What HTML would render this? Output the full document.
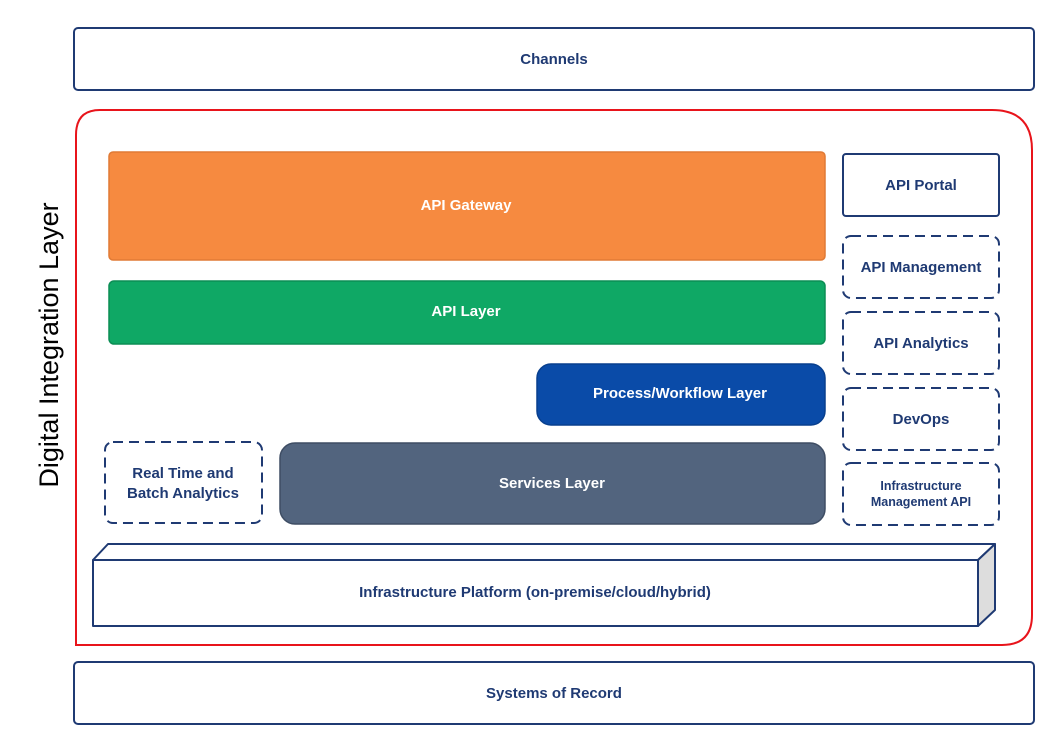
<!DOCTYPE html>
<html><head><meta charset="utf-8"><style>
html,body{margin:0;padding:0;background:#fff;}
svg{display:block;}
text{font-family:"Liberation Sans",Arial,sans-serif;}
.l{font-weight:bold;font-size:15px;fill:#1F3A73;text-anchor:middle;}
.w{font-weight:bold;font-size:15px;fill:#fff;text-anchor:middle;}
</style></head><body>
<svg width="1052" height="736" viewBox="0 0 1052 736">
<g fill="none" stroke="#1F3A73" stroke-width="2">
<rect x="74" y="28" width="960" height="62" rx="4" fill="#fff"/>
<rect x="74" y="662" width="960" height="62" rx="4" fill="#fff"/>
</g>
<text class="l" x="554" y="64">Channels</text>
<text class="l" x="554" y="698">Systems of Record</text>

<path d="M100 110 H992 Q1032 110 1032 150 V615 Q1032 645 1002 645 H76 V135 Q76 110 100 110 Z" fill="none" stroke="#E8141B" stroke-width="2"/>

<text x="51" y="345" transform="rotate(-90 51 345)" font-size="27" fill="#000" text-anchor="middle" dominant-baseline="middle">Digital Integration Layer</text>

<rect x="109" y="152" width="716" height="108" rx="4" fill="#F68A40" stroke="#E07A35" stroke-width="1.5"/>
<text class="w" x="466" y="210">API Gateway</text>
<rect x="109" y="281" width="716" height="63" rx="5" fill="#0FA865" stroke="#0C8E55" stroke-width="1.5"/>
<text class="w" x="466" y="316">API Layer</text>
<rect x="537" y="364" width="288" height="61" rx="14" fill="#0A4BA8" stroke="#083F8E" stroke-width="1.5"/>
<text class="w" x="680" y="398">Process/Workflow Layer</text>
<rect x="280" y="443" width="545" height="81" rx="15" fill="#52647E" stroke="#3E4D64" stroke-width="1.5"/>
<text class="w" x="552" y="488">Services Layer</text>

<g fill="none" stroke="#1F3A73" stroke-width="2">
<rect x="105" y="442" width="157" height="81" rx="8" stroke-dasharray="10,6"/>
<rect x="843" y="154" width="156" height="62" rx="3"/>
<rect x="843" y="236" width="156" height="62" rx="8" stroke-dasharray="10,6"/>
<rect x="843" y="312" width="156" height="62" rx="8" stroke-dasharray="10,6"/>
<rect x="843" y="388" width="156" height="62" rx="8" stroke-dasharray="10,6"/>
<rect x="843" y="463" width="156" height="62" rx="8" stroke-dasharray="10,6"/>
</g>
<text class="l" x="183" y="478">Real Time and</text>
<text class="l" x="183" y="498">Batch Analytics</text>
<text class="l" x="921" y="190">API Portal</text>
<text class="l" x="921" y="272">API Management</text>
<text class="l" x="921" y="348">API Analytics</text>
<text class="l" x="921" y="424">DevOps</text>
<text class="l" x="921" y="490" style="font-size:12.5px">Infrastructure</text>
<text class="l" x="921" y="506" style="font-size:12.5px">Management API</text>

<g stroke="#1F3A73" stroke-width="2" stroke-linejoin="round">
<path d="M93 560 L108 544 L995 544 L978 560 Z" fill="#fff"/>
<path d="M978 560 L995 544 L995 610 L978 626 Z" fill="#DDDDDD"/>
<rect x="93" y="560" width="885" height="66" fill="#fff"/>
</g>
<text class="l" x="535" y="597">Infrastructure Platform (on-premise/cloud/hybrid)</text>
</svg>
</body></html>
